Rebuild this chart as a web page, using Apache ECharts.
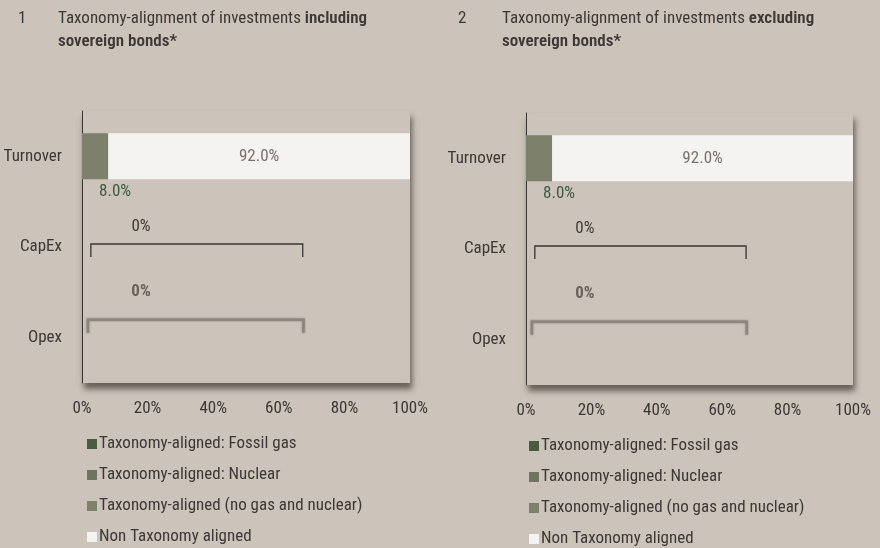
<!DOCTYPE html>
<html>
<head>
<meta charset="utf-8">
<script src="https://cdn.jsdelivr.net/npm/echarts@6/dist/echarts.min.js"></script>
<style>
  html, body { margin: 0; padding: 0; background: #CCC3BA; }
  #chart { width: 880px; height: 548px; }
</style>
</head>
<body>
<div id="chart"></div>
<script>
// categories and values (percent)
const categories = ["Turnover", "CapEx", "Opex"];
const seriesNames = [
  "Taxonomy-aligned: Fossil gas",
  "Taxonomy-aligned: Nuclear",
  "Taxonomy-aligned (no gas and nuclear)",
  "Non Taxonomy aligned",
];
// chart 1: including sovereign bonds
const fossilGas1 = [0, 0, 0];
const nuclear1 = [0, 0, 0];
const alignedOther1 = [8.0, 0, 0];
const nonAligned1 = [92.0, 0, 0];
// chart 2: excluding sovereign bonds
const fossilGas2 = [0, 0, 0];
const nuclear2 = [0, 0, 0];
const alignedOther2 = [8.0, 0, 0];
const nonAligned2 = [92.0, 0, 0];
// zero-value callouts
const zeroCats = ["CapEx", "Opex"];
const zeroLabels = ["0%", "0%"];
const xTicks = [0, 20, 40, 60, 80, 100];

const FONT = "'Roboto Condensed', Roboto, sans-serif";
const FS = 17;
const TXT = "#3c3836";
const colors = ["#4B5B42", "#6F7361", "#7D806B", "#F4F3F1"];

const pct = (v) => v.toFixed(1) + "%";

// bracket + "0%" marks for zero-value rows
const bracketRender = (params, api) => {
  const cat = api.value(1);
  const isOpex = params.dataIndex === 1;
  const span = isOpex ? [1.8, 67.5] : [2.7, 67.3];
  const a = api.coord([span[0], cat]);
  const b = api.coord([span[1], cat]);
  const t = api.coord([18, cat]);
  const top = isOpex ? a[1] - 18 : a[1] - 3;
  const ty = isOpex ? t[1] - 46 : t[1] - 20;
  return {
    type: "group",
    children: [
      {
        type: "polyline",
        shape: {
          points: [
            [a[0], top + 13],
            [a[0], top],
            [b[0], top],
            [b[0], top + 13],
          ],
        },
        style: isOpex
          ? { stroke: "#8d8680", lineWidth: 2.5, fill: null, shadowBlur: 2, shadowColor: "rgba(80,70,60,0.6)" }
          : { stroke: "#3a3533", lineWidth: 1.3, fill: null },
      },
      {
        type: "text",
        style: {
          text: zeroLabels[params.dataIndex],
          x: t[0],
          y: ty,
          align: "center",
          verticalAlign: "middle",
          fontFamily: FONT,
          fontSize: FS,
          fontWeight: isOpex ? "bold" : "normal",
          fill: isOpex ? "#6a625c" : "#3f3a38",
          shadowBlur: isOpex ? 2 : 0,
          shadowColor: "rgba(90,80,70,0.7)",
        },
      },
    ],
  };
};

const makeSeries = (idx, data) => {
  const [fg, nu, al, na] = data;
  const base = {
    type: "bar",
    stack: "total" + idx,
    xAxisIndex: idx,
    yAxisIndex: idx,
    barWidth: 46,
  };
  return [
    { ...base, name: seriesNames[0], data: fg, itemStyle: { color: colors[0] } },
    { ...base, name: seriesNames[1], data: nu, itemStyle: { color: colors[1] } },
    {
      ...base,
      name: seriesNames[2],
      data: al,
      itemStyle: { color: colors[2] },
      label: {
        show: true,
        position: "bottom",
        distance: 4,
        offset: [20, 0],
        color: "#3D5A3F",
        fontFamily: FONT,
        fontSize: FS,
        formatter: (p) => (p.value > 0 ? pct(p.value) : ""),
      },
    },
    {
      ...base,
      name: seriesNames[3],
      data: na,
      itemStyle: { color: colors[3] },
      label: {
        show: true,
        position: "inside",
        color: "#7A706C",
        fontFamily: FONT,
        fontSize: FS,
        formatter: (p) => (p.value > 0 ? pct(p.value) : ""),
      },
    },
    {
      type: "custom",
      name: "zero",
      xAxisIndex: idx,
      yAxisIndex: idx,
      renderItem: bracketRender,
      encode: { x: 0, y: 1 },
      data: zeroCats.map((c) => [0, c]),
      silent: true,
      z: 5,
    },
  ];
};

const gridStyle = {
  show: true,
  backgroundColor: "#CCC3BA",
  borderWidth: 0,
  shadowColor: "rgba(50,40,35,0.65)",
  shadowBlur: 6,
  shadowOffsetX: 2,
  shadowOffsetY: 6,
  containLabel: false,
};

const xAxisBase = {
  type: "value",
  min: 0,
  max: 100,
  interval: 20,
  axisLine: { show: false },
  axisTick: { show: false },
  splitLine: { show: false },
  axisLabel: {
    color: TXT,
    fontFamily: FONT,
    fontSize: FS,
    margin: 17,
    formatter: (v) => (xTicks.includes(v) ? v + "%" : ""),
  },
};

const yAxisBase = {
  type: "category",
  inverse: true,
  data: categories,
  axisLine: { show: true, lineStyle: { color: "#3a3533", width: 1 } },
  axisTick: { show: false },
  axisLabel: { color: TXT, fontFamily: FONT, fontSize: FS, margin: 20 },
};

const titleText = (num, word) => [
  {
    left: 13,
    top: 2,
    text: num,
    textStyle: { fontFamily: FONT, fontSize: FS, fontWeight: "normal", color: TXT, lineHeight: 23 },
  },
  {
    left: 53,
    top: 2,
    text: "Taxonomy-alignment of investments {b|" + word + "}\n{b|sovereign bonds*}",
    textStyle: {
      fontFamily: FONT,
      fontSize: FS,
      fontWeight: "normal",
      color: TXT,
      lineHeight: 23,
      rich: { b: { fontFamily: FONT, fontSize: FS, fontWeight: 600, color: TXT, lineHeight: 23 } },
    },
  },
];

const legendBase = {
  orient: "vertical",
  data: seriesNames,
  icon: "rect",
  itemWidth: 10,
  itemHeight: 10,
  itemGap: 11,
  padding: 0,
  height: 118,
  textStyle: { color: TXT, fontFamily: FONT, fontSize: FS, lineHeight: 20, padding: [0, 0, 0, -3] },
  selectedMode: false,
};

const chart = echarts.init(document.getElementById("chart"), null, { renderer: "canvas" });
const t1 = titleText("1", "including");
const t2 = titleText("2", "excluding");
t2[0].left = 453;
t2[1].left = 497;

chart.setOption({
  backgroundColor: "#CCC3BA",
  animation: false,
  title: [...t1, ...t2],
  grid: [
    { ...gridStyle, left: 82, top: 111, width: 328, height: 272 },
    { ...gridStyle, left: 526, top: 113, width: 327, height: 272 },
  ],
  xAxis: [
    { ...xAxisBase, gridIndex: 0 },
    { ...xAxisBase, gridIndex: 1 },
  ],
  yAxis: [
    { ...yAxisBase, gridIndex: 0 },
    { ...yAxisBase, gridIndex: 1 },
  ],
  legend: [
    { ...legendBase, left: 87, top: 434 },
    { ...legendBase, left: 529, top: 436 },
  ],
  series: [
    ...makeSeries(0, [fossilGas1, nuclear1, alignedOther1, nonAligned1]),
    ...makeSeries(1, [fossilGas2, nuclear2, alignedOther2, nonAligned2]),
  ],
});
</script>
</body>
</html>
